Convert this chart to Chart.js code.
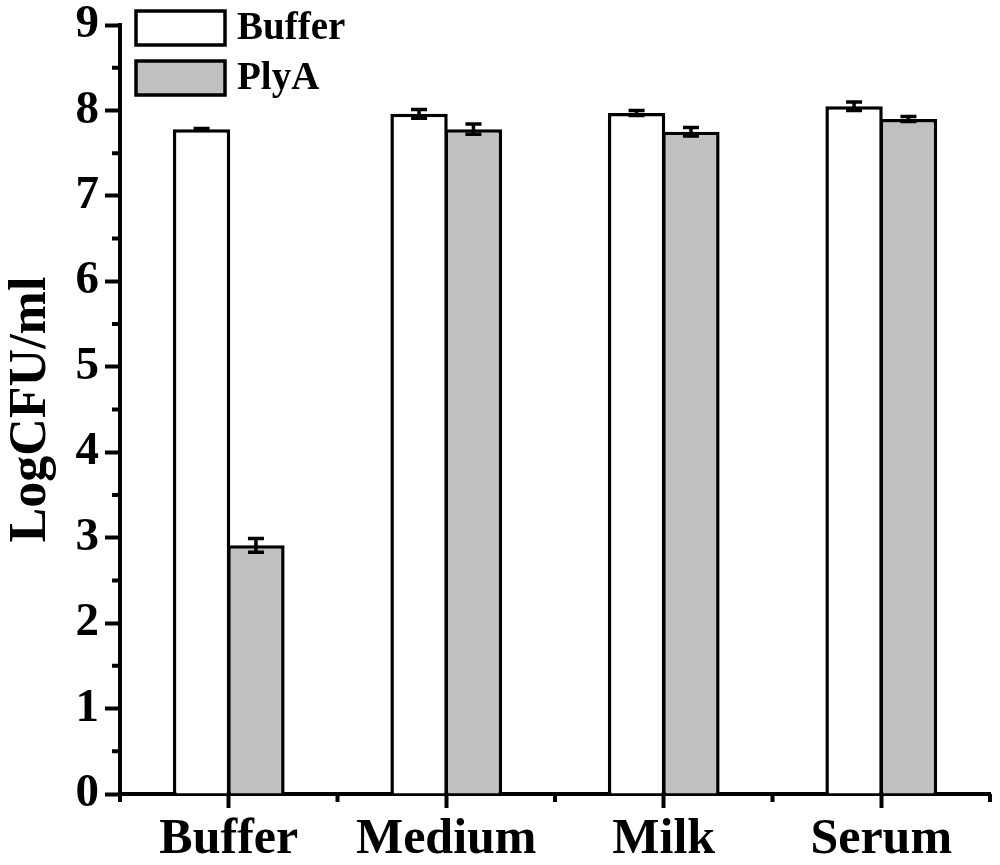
<!DOCTYPE html>
<html>
<head>
<meta charset="utf-8">
<script src="https://cdn.jsdelivr.net/npm/chart.js@4.4.1/dist/chart.umd.min.js"></script>
<style>
  html, body { margin: 0; padding: 0; background: #fff; }
  #wrap { width: 1000px; height: 865px; position: relative; }
</style>
</head>
<body>
<div id="wrap"><canvas id="chart"></canvas></div>
<script>
// categories + series (LogCFU/ml)
var categories = ['Buffer', 'Medium', 'Milk', 'Serum'];
var bufferValues = [7.78, 7.96, 7.97, 8.05];
var bufferErrors = [0.01, 0.05, 0.03, 0.05];
var plyaValues = [2.91, 7.78, 7.75, 7.9];
var plyaErrors = [0.08, 0.06, 0.05, 0.03];
var yTicks = [0, 1, 2, 3, 4, 5, 6, 7, 8, 9];

var FONT = '"Liberation Serif", "Times New Roman", serif';

// error bars drawn on top of the bars
var errorBars = {
  id: 'errorBars',
  afterDatasetsDraw: function(chart) {
    var ctx = chart.ctx;
    var yScale = chart.scales.y;
    ctx.save();
    ctx.strokeStyle = '#000';
    ctx.lineWidth = 3.5;
    chart.data.datasets.forEach(function(ds, i) {
      var meta = chart.getDatasetMeta(i);
      meta.data.forEach(function(bar, j) {
        var v = ds.data[j], e = ds.errors[j];
        var top = yScale.getPixelForValue(v + e);
        var bot = yScale.getPixelForValue(v - e);
        ctx.beginPath();
        ctx.moveTo(bar.x, top); ctx.lineTo(bar.x, bot);
        ctx.moveTo(bar.x - 8, top); ctx.lineTo(bar.x + 8, top);
        ctx.moveTo(bar.x - 8, bot); ctx.lineTo(bar.x + 8, bot);
        ctx.stroke();
      });
    });
    ctx.restore();
  }
};

// minor ticks: half steps on y, category boundaries on x
var minorTicks = {
  id: 'minorTicks',
  afterDraw: function(chart) {
    var ctx = chart.ctx;
    var x = chart.scales.x, y = chart.scales.y;
    var area = chart.chartArea;
    ctx.save();
    ctx.strokeStyle = '#000';
    ctx.lineWidth = 4;
    ctx.beginPath();
    for (var k = 0; k < yTicks.length - 1; k++) {
      var py = y.getPixelForValue(yTicks[k] + 0.5);
      ctx.moveTo(area.left - 8, py); ctx.lineTo(area.left, py);
    }
    var step = (area.right - area.left) / categories.length;
    for (var c = 0; c <= categories.length; c++) {
      var px = area.left + c * step;
      ctx.moveTo(px, area.bottom); ctx.lineTo(px, area.bottom + 8);
    }
    ctx.stroke();
    ctx.restore();
  }
};

// legend boxes in the top-left corner
var boxLegend = {
  id: 'boxLegend',
  afterDraw: function(chart) {
    var ctx = chart.ctx;
    ctx.save();
    ctx.lineWidth = 3.5;
    ctx.strokeStyle = '#000';
    ctx.font = 'bold 39px ' + FONT;
    ctx.textBaseline = 'middle';
    chart.data.datasets.forEach(function(ds, i) {
      var top = 11 + i * 50;
      ctx.fillStyle = ds.backgroundColor;
      ctx.fillRect(136, top, 89, 34);
      ctx.strokeRect(136, top, 89, 34);
      ctx.fillStyle = '#000';
      ctx.fillText(ds.label, 237, top + 18);
    });
    ctx.restore();
  }
};

new Chart(document.getElementById('chart'), {
  type: 'bar',
  data: {
    labels: categories,
    datasets: [
      {
        label: 'Buffer',
        data: bufferValues,
        errors: bufferErrors,
        backgroundColor: '#ffffff',
        borderColor: '#000',
        borderWidth: 3.5,
        borderSkipped: 'bottom',
        categoryPercentage: 0.5,
        barPercentage: 1.055
      },
      {
        label: 'PlyA',
        data: plyaValues,
        errors: plyaErrors,
        backgroundColor: '#c0c0c0',
        borderColor: '#000',
        borderWidth: 3.5,
        borderSkipped: 'bottom',
        categoryPercentage: 0.5,
        barPercentage: 1.055
      }
    ]
  },
  options: {
    responsive: true,
    maintainAspectRatio: false,
    animation: false,
    devicePixelRatio: 1,
    layout: { padding: { top: 25, right: 10, left: 0, bottom: 0 } },
    plugins: {
      legend: { display: false },
      tooltip: { enabled: false }
    },
    scales: {
      x: {
        offset: true,
        grid: {
          offset: false,
          display: true,
          drawOnChartArea: false,
          drawTicks: true,
          tickLength: 14,
          tickWidth: 4,
          tickColor: '#000'
        },
        border: { display: true, color: '#000', width: 4 },
        ticks: {
          color: '#000',
          padding: 2,
          font: { family: FONT, size: 50, weight: 'bold' },
          maxRotation: 0
        },
        afterFit: function(scale) { scale.height = 71; }
      },
      y: {
        min: 0,
        max: 9,
        afterBuildTicks: function(scale) {
          scale.ticks = yTicks.map(function(v) { return { value: v }; });
        },
        grid: {
          display: true,
          drawOnChartArea: false,
          drawTicks: true,
          tickLength: 15,
          tickWidth: 4,
          tickColor: '#000'
        },
        border: { display: true, color: '#000', width: 4 },
        ticks: {
          color: '#000',
          padding: 6,
          font: { family: FONT, size: 47, weight: 'bold', lineHeight: 0.7 }
        },
        title: {
          display: true,
          text: 'LogCFU/ml',
          color: '#000',
          padding: { top: 0, bottom: 0 },
          font: { family: FONT, size: 52, weight: 'bold' }
        },
        afterFit: function(scale) { scale.width = 120; }
      }
    }
  },
  plugins: [errorBars, minorTicks, boxLegend]
});
</script>
</body>
</html>
